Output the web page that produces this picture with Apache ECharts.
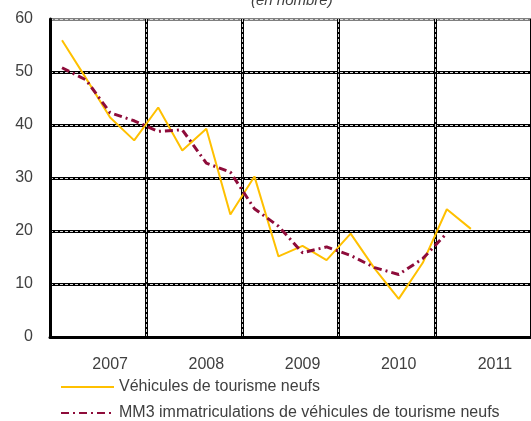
<!DOCTYPE html>
<html>
<head>
<meta charset="utf-8">
<script src="https://cdn.jsdelivr.net/npm/echarts@6/dist/echarts.min.js"></script>
<style>
  html, body { margin: 0; padding: 0; background: #fff; }
  #chart { width: 531px; height: 421px; }
</style>
</head>
<body>
<div id="chart"></div>
<script>
// quarterly categories, 2007 T1 .. 2011 T4
const quarters = []
for (let y = 2007; y <= 2011; y += 1) {
  for (let q = 1; q <= 4; q += 1) quarters.push(y + 'T' + q)
}

const vehicules = [56, 48.8, 41.4, 37.1, 43.3, 35.2, 39.3, 23.1, 30.3, 15.2, 17.2, 14.5, 19.5, 12.9, 7.2, 14, 24.1, 20.4]
const mm3 = [50.8, 48.5, 42.3, 40.8, 38.8, 39.1, 32.8, 31.1, 24.2, 20.9, 15.9, 17, 15.4, 13.1, 11.8, 14.8, 19.6]

const yTicks = [0, 10, 20, 30, 40, 50, 60]

const nameVeh = 'Véhicules de tourisme neufs'
const nameMm3 = 'MM3 immatriculations de véhicules de tourisme neufs'

const textColor = '#404040'
const font = 'Liberation Sans'

const chart = echarts.init(document.getElementById('chart'))

const catAxis = (show) => ({
  type: 'category',
  data: quarters,
  boundaryGap: true,
  axisLine: show ? { lineStyle: { color: '#000', width: 3 } } : { show: false },
  axisTick: { show: false },
  axisLabel: show ? {
    interval: (index) => index % 4 === 2,
    formatter: (v) => v.slice(0, 4),
    color: textColor,
    fontFamily: font,
    fontSize: 16,
    margin: 20,
  } : { show: false },
  splitLine: {
    show: true,
    interval: 3,
    lineStyle: show ? { color: '#000', width: 3 } : { color: '#d8d8d8', width: 1, type: [3, 2] },
  },
})

const valAxis = (show) => ({
  type: 'value',
  min: yTicks[0],
  max: yTicks[yTicks.length - 1],
  interval: 10,
  axisLine: show ? { show: true, lineStyle: { color: '#000', width: 3 } } : { show: false },
  axisTick: { show: false },
  axisLabel: show ? {
    color: textColor,
    fontFamily: font,
    fontSize: 16,
    margin: 17,
  } : { show: false },
  splitLine: {
    show: true,
    lineStyle: show
      ? { color: ['#000', '#000', '#000', '#000', '#000', '#000', '#808080'], width: 3 }
      : { color: '#d8d8d8', width: 1, type: [3, 2] },
  },
})

const legendBase = (name, top) => ({
  left: 55,
  top: top,
  itemWidth: 53,
  itemHeight: 14,
  itemStyle: { opacity: 0 },
  textStyle: {
    color: textColor,
    fontFamily: font,
    fontSize: 16,
  },
  data: [name],
})

const option = {
  animation: false,
  title: {
    text: '(en nombre)',
    left: 246,
    top: -12,
    textStyle: {
      color: textColor,
      fontFamily: font,
      fontStyle: 'italic',
      fontWeight: 'normal',
      fontSize: 15,
    },
  },
  grid: {
    left: 50,
    top: 19,
    right: -5,
    bottom: 84,
    containLabel: false,
  },
  legend: [legendBase(nameVeh, 374), legendBase(nameMm3, 400)],
  xAxis: [catAxis(true), catAxis(false)],
  yAxis: [valAxis(true), valAxis(false)],
  series: [
    {
      name: nameVeh,
      type: 'line',
      data: vehicules,
      symbol: 'none',
      color: '#FFC000',
      lineStyle: { color: '#FFC000', width: 2 },
      z: 3,
    },
    {
      name: nameMm3,
      type: 'line',
      data: mm3,
      symbol: 'none',
      color: '#8E0C3A',
      lineStyle: { color: '#8E0C3A', width: 3, type: [8, 4, 2, 4] },
      z: 4,
    },
  ],
}

chart.setOption(option)
</script>
</body>
</html>
